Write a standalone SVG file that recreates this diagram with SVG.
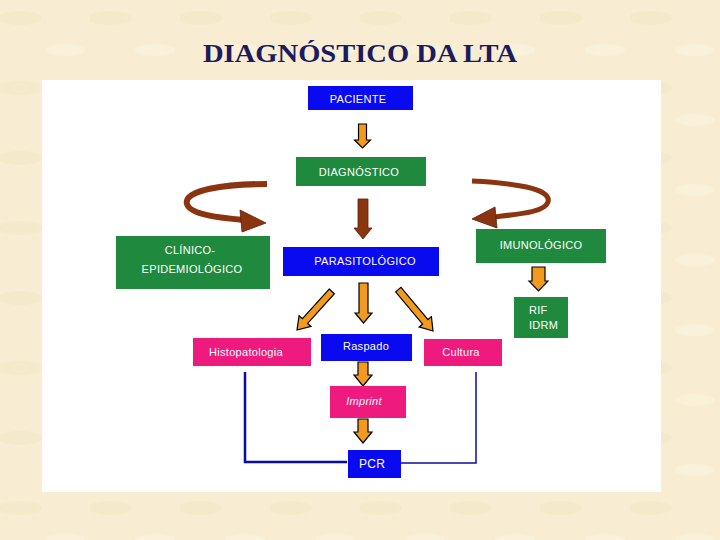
<svg xmlns="http://www.w3.org/2000/svg" width="720" height="540" viewBox="0 0 720 540">
<defs>
<style>
.lbl{font-family:"Liberation Sans",Arial,sans-serif;font-size:11px;fill:#ffffff;text-anchor:middle;letter-spacing:0.3px}
.blue{fill:#0A0AF0}
.green{fill:#1F8A3E}
.pink{fill:#EE1A7E}
.oarr{fill:#F29A1E;stroke:#000;stroke-width:1.2;stroke-linejoin:miter}
.barr{fill:#8A3510;stroke:#5a2008;stroke-width:0.8}
.curve{fill:none;stroke:#8A3510;stroke-width:6;stroke-linecap:butt}
.line{fill:none;stroke:#0A0AA8}
</style>
<pattern id="parch" width="90" height="70" patternUnits="userSpaceOnUse">
<rect width="90" height="70" fill="#F8EDD2"/>
<ellipse cx="20" cy="18" rx="22" ry="7" fill="#F4E6C6" opacity="0.6"/>
<ellipse cx="65" cy="50" rx="20" ry="6" fill="#FBF3E0" opacity="0.6"/>
</pattern>
</defs>
<rect width="720" height="540" fill="url(#parch)"/>
<text x="360" y="62" font-family="'Liberation Serif','Times New Roman',serif" font-weight="bold" font-size="25" fill="#1B1B5E" text-anchor="middle" textLength="314" lengthAdjust="spacingAndGlyphs">DIAGNÓSTICO DA LTA</text>
<rect x="42" y="80" width="619" height="412" fill="#ffffff"/>

<g id="connectors">
<path class="oarr" d="M358.5,124 H366.5 V140 H370.5 L362.5,148 L354.5,140 H358.5 Z"/>
<path class="barr" d="M358,199 H368 V228 H372 L363,239 L354,228 H358 Z"/>
<path class="oarr" d="M532,267 H545 V281 H548 L538.5,291 L529,281 H532 Z"/>
<path class="oarr" d="M359,283 H368 V313 H372 L363.5,323 L355,313 H359 Z"/>
<path class="oarr" transform="translate(297,330) rotate(42)" d="M-3.5,-52 H3.5 V-12 H8 L0,0 L-8,-12 H-3.5 Z"/>
<path class="oarr" transform="translate(433,331) rotate(-40)" d="M-3.5,-54 H3.5 V-12 H8 L0,0 L-8,-12 H-3.5 Z"/>
<path class="oarr" d="M358,362 H368 V375 H372 L363,386 L354,375 H358 Z"/>
<path class="oarr" d="M358,419 H368 V432 H372 L363,443 L354,432 H358 Z"/>
<path class="curve" d="M267,184 C225,184 183,190 187,204 C190,215 222,218 244,220"/>
<polygon class="barr" points="240,210 266,223 242,232" stroke="none"/>
<path class="curve" style="stroke-width:5" d="M472,181 C512,183 552,188 548,202 C545,212 520,214 494,217"/>
<polygon class="barr" points="495,207 472,219 497,228" stroke="none"/>
<path class="line" stroke-width="2.5" d="M245,372 V462 H347"/>
<path class="line" stroke-width="1.5" d="M476,372 V463 H400"/>
</g>

<g id="paciente"><rect class="blue" x="308" y="86" width="105" height="24"/><text class="lbl" x="358" y="103">PACIENTE</text></g>
<g id="diagnostico"><rect class="green" x="296" y="157" width="130" height="29"/><text class="lbl" x="359" y="176">DIAGNÓSTICO</text></g>
<g id="clinico"><rect class="green" x="116" y="236" width="154" height="53"/><text class="lbl" x="190" y="254">CLÍNICO-</text><text class="lbl" x="192" y="273">EPIDEMIOLÓGICO</text></g>
<g id="parasitologico"><rect class="blue" x="283" y="247" width="156" height="29"/><text class="lbl" x="365" y="265">PARASITOLÓGICO</text></g>
<g id="imunologico"><rect class="green" x="476" y="229" width="130" height="34"/><text class="lbl" x="541" y="249">IMUNOLÓGICO</text></g>
<g id="rif"><rect class="green" x="514" y="297" width="54" height="41"/><text class="lbl" x="529" y="314" style="text-anchor:start">RIF</text><text class="lbl" x="529" y="329" style="text-anchor:start">IDRM</text></g>
<g id="histopatologia"><rect class="pink" x="193" y="338" width="118" height="28"/><text class="lbl" x="246" y="356">Histopatologia</text></g>
<g id="raspado"><rect class="blue" x="321" y="334" width="91" height="27"/><text class="lbl" x="366" y="350">Raspado</text></g>
<g id="cultura"><rect class="pink" x="424" y="339" width="78" height="27"/><text class="lbl" x="461" y="356">Cultura</text></g>
<g id="imprint"><rect class="pink" x="330" y="386" width="76" height="32"/><text class="lbl" x="364" y="405" font-style="italic">Imprint</text></g>
<g id="pcr"><rect class="blue" x="348" y="450" width="53" height="28"/><text class="lbl" x="372" y="468" style="font-size:12px">PCR</text></g>
</svg>
